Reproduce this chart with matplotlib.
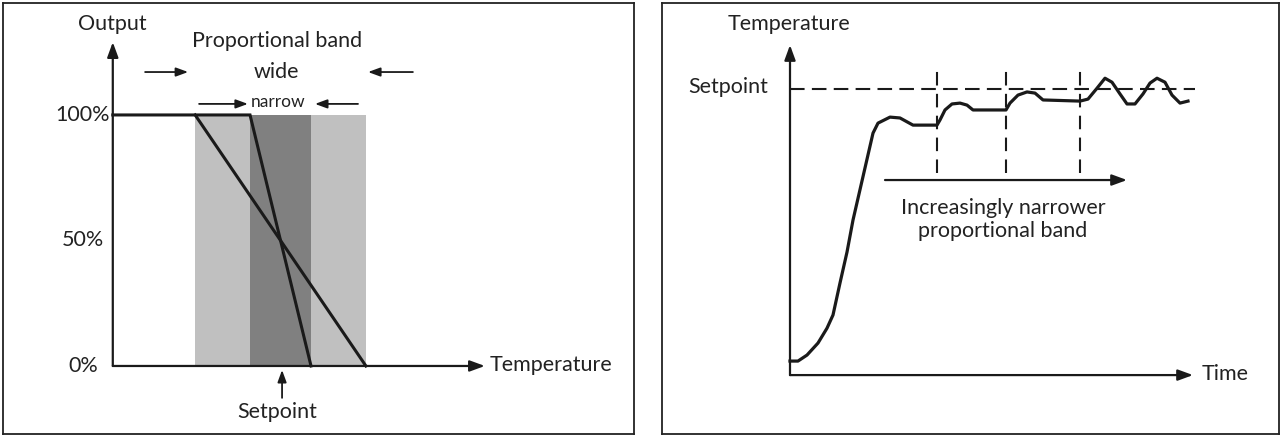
import matplotlib.pyplot as plt

plt.rcParams['font.family'] = ['Lato', 'DejaVu Sans']
ink = '#1a1a1a'
txt = '#222222'
fs = 15.5

# ---- left panel data: output (%) against temperature, setpoint at 0
pct_ticks = [0, 50, 100]
pct_labels = ['0%', '50%', '100%']
wide_band = [-28, 28]
narrow_band = [-10, 10]
narrow_x = [-55, -10, 10]
narrow_y = [100, 100, 0]
wide_x = [-28, 28]
wide_y = [100, 0]

# ---- right panel data: temperature response over time
setpoint = 100
pb_change_t = [147, 216, 290]
time = [0, 8, 17, 28, 37, 43, 50, 57, 63, 83, 88, 100, 110, 123, 147, 150,
        155, 162, 170, 177, 183, 216, 220, 228, 237, 245, 253, 290, 298, 307,
        315, 322, 330, 337, 345, 353, 360, 367, 375, 382, 390, 398]
temp = [4.9, 4.9, 7.0, 11.2, 16.4, 21.0, 32.2, 43.0, 54.2, 84.6, 88.1, 90.2,
        89.9, 87.4, 87.4, 89.2, 92.7, 94.8, 95.1, 94.4, 92.7, 92.7, 95.1, 97.9,
        99.0, 98.6, 96.2, 95.8, 96.5, 100.3, 103.8, 102.4, 98.3, 94.8, 94.8,
        98.3, 102.1, 103.8, 102.4, 97.9, 95.1, 95.8]

W, H = 1281, 436
fig = plt.figure(figsize=(W / 100, H / 100), dpi=100)


def panel(px0, px1):
    ax = fig.add_axes([px0 / W, 2 / H, (px1 - px0) / W, 431 / H])
    ax.set_xticks([])
    ax.set_yticks([])
    for s in ax.spines.values():
        s.set_linewidth(1.3)
        s.set_color('#222222')
    return ax


def arrow(ax, x0, y0, x1, y1, lw=1.6, scale=15):
    ax.annotate('', xy=(x1, y1), xytext=(x0, y0),
                arrowprops=dict(arrowstyle='-|>,head_length=0.6,head_width=0.22',
                                mutation_scale=scale, lw=lw, color=ink,
                                shrinkA=0, shrinkB=0))


def label(ax, x, y, s, size=fs, **kw):
    ax.text(x, y, s, fontsize=size, color=txt, **kw)


# left panel
ax1 = panel(3, 634)
ax1.set_xlim(-91.0, 115.9)
ax1.set_ylim(-27.1, 144.6)

ax1.fill_between(wide_band, 0, 100, color='#c0c0c0', lw=0)
ax1.fill_between(narrow_band, 0, 100, color='#808080', lw=0)
ax1.plot(narrow_x, narrow_y, color=ink, lw=2.2, solid_joinstyle='miter')
ax1.plot(wide_x, wide_y, color=ink, lw=2.2)

arrow(ax1, -55, 0, 67, 0)
arrow(ax1, -55, 0, -55, 129)
for v, lab in zip(pct_ticks, pct_labels):
    label(ax1, -64.8, v, lab, ha='center', va='center')

label(ax1, -55.2, 136.3, 'Output', ha='center', va='center')
label(ax1, 68.5, 0.5, 'Temperature', ha='left', va='center')
label(ax1, -1.3, 129.5, 'Proportional band', ha='center', va='center')
label(ax1, -1.3, 117.1, 'wide', ha='center', va='center')
label(ax1, -0.8, 105.2, 'narrow', size=12.5, ha='center', va='center')

arrow(ax1, -44.4, 117.1, -30.3, 117.1, lw=1.3, scale=12)
arrow(ax1, 43.4, 117.1, 28.7, 117.1, lw=1.3, scale=12)
arrow(ax1, -26.7, 104.4, -10.7, 104.4, lw=1.3, scale=12)
arrow(ax1, 25.4, 104.4, 11.3, 104.4, lw=1.3, scale=12)

arrow(ax1, 0.5, -12.7, 0.5, -1.6, lw=1.3, scale=12)
label(ax1, -1.0, -18.3, 'Setpoint', ha='center', va='center')

# right panel
ax2 = panel(662, 1279)
ax2.set_xlim(-128, 489)
ax2.set_ylim(-20.6, 130.1)

ax2.plot([0, 405], [setpoint, setpoint], color=ink, lw=1.5, ls=(0, (7, 3.5)))
ax2.vlines(pb_change_t, 70.6, 107.7, color=ink, lw=1.5, ls=(0, (6.5, 4)))
ax2.plot(time, temp, color=ink, lw=2.3)

arrow(ax2, 0, 0, 403, 0)
arrow(ax2, 0, 0, 0, 115.4)
arrow(ax2, 95, 68.2, 337, 68.2)

label(ax2, -1, 122.7, 'Temperature', ha='center', va='center')
label(ax2, -22, 100.7, 'Setpoint', ha='right', va='center')
label(ax2, 412, 0.3, 'Time', ha='left', va='center')
label(ax2, 213, 54.4, 'Increasingly narrower\nproportional band', ha='center',
      va='center', linespacing=1.2)

fig.savefig('out.png', dpi=100)
